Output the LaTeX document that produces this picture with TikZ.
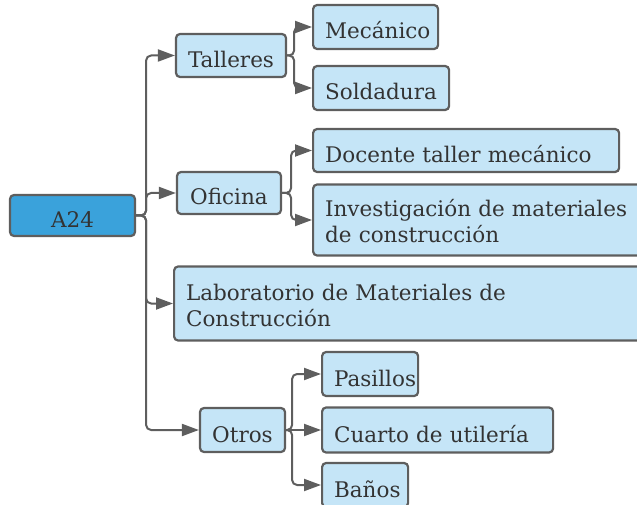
\documentclass[tikz,border=0pt]{standalone}
\usepackage{fontspec}
\setmainfont{DejaVu Serif}
\usetikzlibrary{arrows.meta,positioning}
\definecolor{boxfill}{HTML}{C5E5F7}
\definecolor{rootfill}{HTML}{3AA2DB}
\definecolor{edgegray}{HTML}{5E5E5E}
\definecolor{textgray}{HTML}{333333}

\begin{document}
\begin{tikzpicture}[x=1pt,y=-1pt,
    link/.style={draw=edgegray, line width=2pt, rounded corners=5pt, -{Triangle[length=17pt,width=12pt]}}]
            \useasboundingbox (0,0) rectangle (637,505);
            \begin{scope}[box/.style={draw=edgegray, line width=2.2pt, rounded corners=4pt, fill=boxfill, text=textgray, font=\fontsize{21.5}{26}\selectfont, inner xsep=12pt, inner ysep=0pt, text height=24pt, text depth=0pt},
                          leaf/.style={box, align=left, text width=#1},
                          twolines/.style={text height=20pt, text depth=26pt}]
                \node(a24) at (72.5,215.5) [box, fill=rootfill, minimum width=125pt, minimum height=41pt]{A24};
                %%%
                \node(talleres) at (231,55.5) [box, minimum width=108pt, minimum height=43pt]{Talleres};
                \node(oficina) at (229,193) [box, minimum width=104pt, minimum height=42pt]{Oficina};
                \node(lab) at (173,303.5) [leaf=460pt, anchor=west, twolines, minimum height=74pt]{Laboratorio de Materiales de\\Construcción};
                \node(otros) at (242.5,430) [box, minimum width=85pt, minimum height=44pt]{Otros};
                %%%
                \node(mecanico) at (312,27) [leaf=101pt, anchor=west, minimum height=44pt]{Mecánico};
                \node(soldadura) at (312,88) [leaf=112pt, anchor=west, minimum height=44pt]{Soldadura};
                \node(docente) at (312,150.5) [leaf=282pt, anchor=west, minimum height=43pt]{Docente taller mecánico};
                \node(investigacion) at (312,220) [leaf=330pt, anchor=west, twolines, minimum height=71pt]{Investigación de materiales\\de construcción};
                %%%
                \node(pasillos) at (321,374) [leaf=72pt, anchor=west, minimum height=44pt]{Pasillos};
                \node(cuarto) at (321,430) [leaf=207pt, anchor=west, minimum height=45pt]{Cuarto de utilería};
                \node(banos) at (321,485) [leaf=62pt, anchor=west, minimum height=44pt]{Baños};
            \end{scope}
            \draw[link] (a24.east) -- ++(10,0) |- (talleres.west);
            \draw[link] (a24.east) -- ++(10,0) |- (oficina.west);
            \draw[link] (a24.east) -- ++(10,0) |- (lab.west);
            \draw[link] (a24.east) -- ++(10,0) |- (otros.west);
            %
            \draw[link] (talleres.east) -- ++(7,0) |- (mecanico.west);
            \draw[link] (talleres.east) -- ++(7,0) |- (soldadura.west);
            \draw[link] (oficina.east) -- ++(9,0) |- (docente.west);
            \draw[link] (oficina.east) -- ++(9,0) |- (investigacion.west);
            %
            \draw[link] (otros.east) -- ++(6,0) |- (pasillos.west);
            \draw[link] (otros.east) -- (cuarto.west);
            \draw[link] (otros.east) -- ++(6,0) |- (banos.west);
        \end{tikzpicture}
\end{document}
